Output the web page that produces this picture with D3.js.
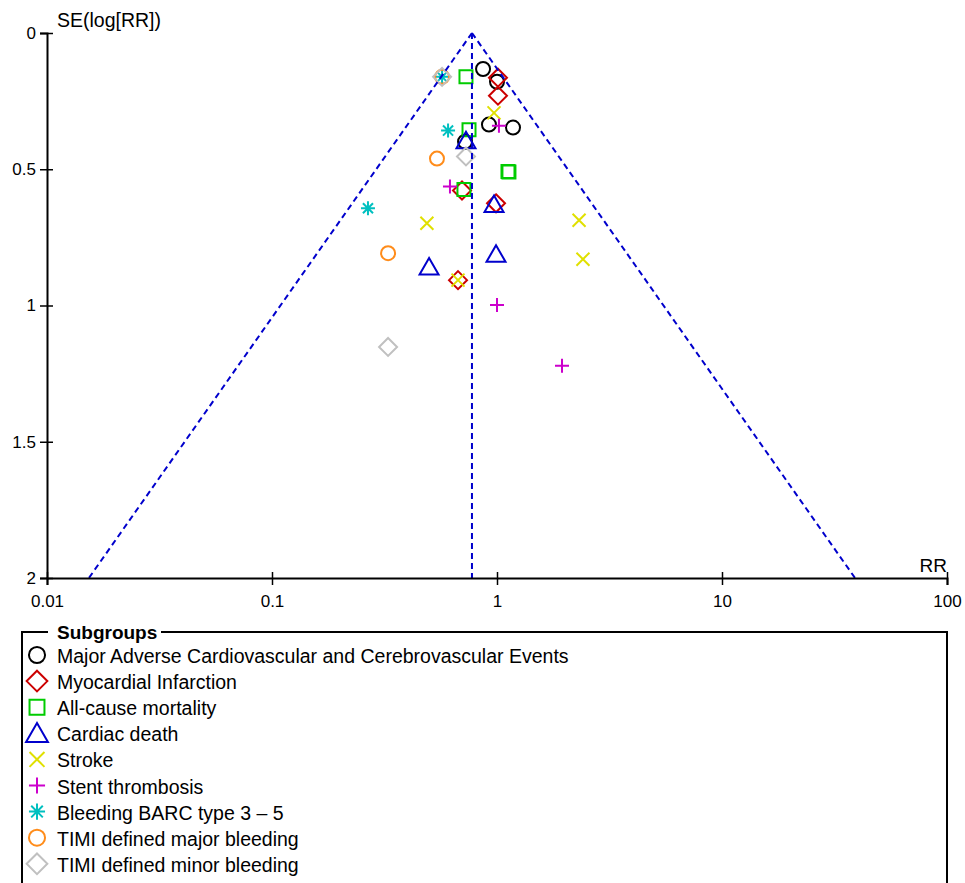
<!DOCTYPE html>
<html>
<head>
<meta charset="utf-8">
<script src="https://cdn.jsdelivr.net/npm/d3@7"></script>
<style>
  body { margin: 0; background: #fff; }
  svg text { font-family: "Liberation Sans", Arial, sans-serif; }
</style>
</head>
<body>
<div id="canvas"></div>
<script>
"use strict";

let svgWidth = 965;
let svgHeight = 883;

// subgroups, legend order
let groupNames = [
  "Major Adverse Cardiovascular and Cerebrovascular Events",
  "Myocardial Infarction",
  "All-cause mortality",
  "Cardiac death",
  "Stroke",
  "Stent thrombosis",
  "Bleeding BARC type 3 \u2013 5",
  "TIMI defined major bleeding",
  "TIMI defined minor bleeding"
];
let groupColors = ["#000000", "#cc0000", "#00cc00", "#0000cc", "#e0e000", "#cc00cc", "#00c0c0", "#ff8c1a", "#c0c0c0"];
let groupShapes = ["circle", "diamond", "square", "triangle", "times", "plus", "star", "circle", "diamond"];

// risk ratio of each study, per subgroup
let rrValues = [
  [0.867, 1.0, 0.921, 1.178, 0.721],
  [1.01, 1.01, 0.699, 0.99, 0.671],
  [0.728, 0.751, 1.119, 1.13, 0.713],
  [0.728, 0.97, 0.99, 0.499],
  [0.97, 0.488, 2.316, 2.41, 0.671],
  [1.02, 0.618, 1.0, 1.945],
  [0.570, 0.606, 0.267],
  [0.570, 0.541, 0.328],
  [0.570, 0.728, 0.328]
];
// standard error of log(RR), same order
let seValues = [
  [0.132, 0.179, 0.336, 0.347, 0.399],
  [0.164, 0.230, 0.578, 0.625, 0.907],
  [0.161, 0.355, 0.508, 0.510, 0.574],
  [0.395, 0.629, 0.812, 0.859],
  [0.293, 0.698, 0.687, 0.830, 0.907],
  [0.340, 0.563, 0.998, 1.221],
  [0.161, 0.358, 0.643],
  [0.161, 0.461, 0.808],
  [0.161, 0.453, 1.152]
];

let pooledRR = 0.774;
let xTicks = [0.01, 0.1, 1, 10, 100];
let yTicks = [0, 0.5, 1, 1.5, 2];

let svg = d3.select("#canvas")
  .append("svg")
  .attr("width", svgWidth)
  .attr("height", svgHeight);

let xScale = d3.scaleLog()
  .domain([0.01, 100])
  .range([47, 947]);

let yScale = d3.scaleLinear()
  .domain([0, 2])
  .range([33, 578]);

/* marker shapes, k = scale factor */
function shapePath(shape, k) {
  let p = d3.path();
  if (shape === "circle") {
    let r = 7 * k;
    p.moveTo(r, 0);
    p.arc(0, 0, r, 0, 2 * Math.PI);
  } else if (shape === "diamond") {
    let r = 9 * k;
    p.moveTo(0, -r); p.lineTo(r, 0); p.lineTo(0, r); p.lineTo(-r, 0); p.closePath();
  } else if (shape === "square") {
    let r = 6.5 * k;
    p.rect(-r, -r, 2 * r, 2 * r);
  } else if (shape === "triangle") {
    let w = 9.5 * k;
    p.moveTo(0, -9 * k); p.lineTo(w, 7.5 * k); p.lineTo(-w, 7.5 * k); p.closePath();
  } else if (shape === "times") {
    let r = 6.5 * k;
    p.moveTo(-r, -r); p.lineTo(r, r); p.moveTo(r, -r); p.lineTo(-r, r);
  } else if (shape === "plus") {
    let r = 7 * k;
    p.moveTo(-r, 0); p.lineTo(r, 0); p.moveTo(0, -r); p.lineTo(0, r);
  } else if (shape === "star") {
    let r = 7 * k;
    p.moveTo(-r, 0); p.lineTo(r, 0);
    p.moveTo(0, -r); p.lineTo(0, r);
    p.moveTo(-r * 0.72, -r * 0.72); p.lineTo(r * 0.72, r * 0.72);
    p.moveTo(r * 0.72, -r * 0.72); p.lineTo(-r * 0.72, r * 0.72);
  }
  return p.toString();
}

/* points */
let points = [];
groupNames.forEach(function(name, g) {
  rrValues[g].forEach(function(rr, i) {
    points.push({ group: g, rr: rr, se: seValues[g][i] });
  });
});

svg.append("g")
  .selectAll("path")
  .data(points)
  .enter()
  .append("path")
  .attr("transform", function(d) { return "translate(" + xScale(d.rr) + "," + yScale(d.se) + ")"; })
  .attr("d", function(d) { return shapePath(groupShapes[d.group], 1); })
  .attr("fill", "none")
  .attr("stroke", function(d) { return groupColors[d.group]; })
  .attr("stroke-width", 2);

/* funnel */
let seMax = 2;
let funnel = [
  [pooledRR, 0, pooledRR, seMax],
  [pooledRR, 0, pooledRR * Math.exp(-1.96 * seMax), seMax],
  [pooledRR, 0, pooledRR * Math.exp(1.96 * seMax), seMax]
];
svg.append("g")
  .selectAll("line")
  .data(funnel)
  .enter()
  .append("line")
  .attr("x1", function(d) { return xScale(d[0]); })
  .attr("y1", function(d) { return yScale(d[1]); })
  .attr("x2", function(d) { return xScale(d[2]); })
  .attr("y2", function(d) { return yScale(d[3]); })
  .attr("stroke", "#0000cc")
  .attr("stroke-width", 2)
  .attr("stroke-dasharray", "6,4");

/* axes */
let xAxis = svg.append("g")
  .attr("transform", "translate(0," + yScale(2) + ")")
  .call(d3.axisBottom(xScale).tickValues(xTicks).tickFormat(d3.format("~g")).tickSizeOuter(0).tickSize(7).tickPadding(10));
xAxis.select(".domain").attr("stroke-width", 2);
xAxis.selectAll(".tick line").attr("y1", -6).attr("stroke-width", 1.5);
xAxis.selectAll(".tick text").style("font-size", "17px").attr("fill", "#000");

let yAxis = svg.append("g")
  .attr("transform", "translate(" + xScale(0.01) + ",0)")
  .call(d3.axisLeft(yScale).tickValues(yTicks).tickFormat(d3.format("~g")).tickSizeOuter(0).tickSize(7).tickPadding(4));
yAxis.select(".domain").attr("stroke-width", 2);
yAxis.selectAll(".tick line").attr("x1", 6).attr("stroke-width", 1.5);
yAxis.selectAll(".tick text").style("font-size", "17px").attr("fill", "#000");

svg.append("text")
  .attr("x", 57)
  .attr("y", 27)
  .style("font-size", "19.5px")
  .text("SE(log[RR])");

svg.append("text")
  .attr("x", 947)
  .attr("y", 572)
  .attr("text-anchor", "end")
  .style("font-size", "19px")
  .text("RR");

/* legend */
let legendX = 22;
let legendY = 632;
svg.append("rect")
  .attr("x", legendX)
  .attr("y", legendY)
  .attr("width", 925)
  .attr("height", 300)
  .attr("fill", "none")
  .attr("stroke", "#000")
  .attr("stroke-width", 2);

svg.append("rect")
  .attr("x", 48)
  .attr("y", legendY - 4)
  .attr("width", 113)
  .attr("height", 8)
  .attr("fill", "#fff");

svg.append("text")
  .attr("x", 57)
  .attr("y", 639)
  .style("font-size", "19px")
  .style("font-weight", "bold")
  .text("Subgroups");

let rowStep = 26.1;
groupNames.forEach(function(name, g) {
  let baseY = 663 + g * rowStep;
  svg.append("path")
    .attr("transform", "translate(37," + (baseY - 8) + ")")
    .attr("d", shapePath(groupShapes[g], 1.15))
    .attr("fill", "none")
    .attr("stroke", groupColors[g])
    .attr("stroke-width", 2);
  svg.append("text")
    .attr("x", 57)
    .attr("y", baseY)
    .style("font-size", "19.5px")
    .text(name);
});
</script>
</body>
</html>
